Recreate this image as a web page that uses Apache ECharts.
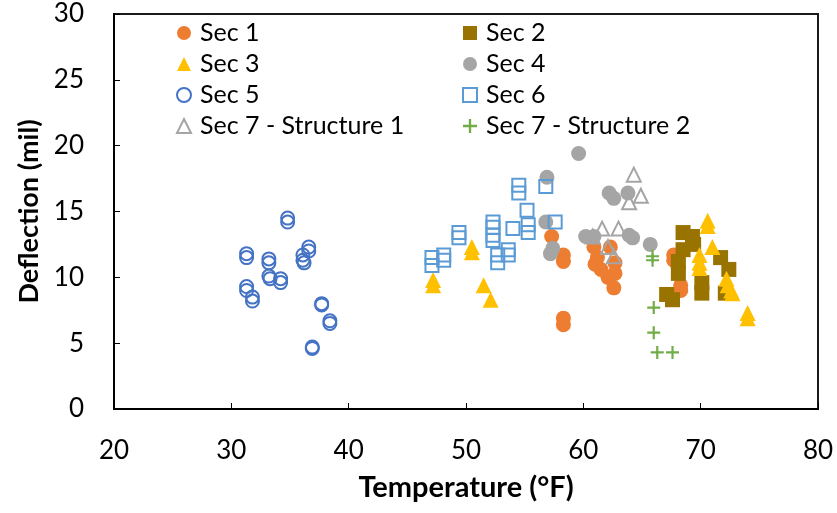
<!DOCTYPE html>
<html>
<head>
<meta charset="utf-8">
<script src="https://cdn.jsdelivr.net/npm/echarts@6/dist/echarts.min.js"></script>
<style>html,body{margin:0;padding:0;background:#fff}#c{width:837px;height:513px}</style>
</head>
<body>
<div id="c"></div>
<script>
const xTicks = [20, 30, 40, 50, 60, 70, 80];
const yTicks = [0, 5, 10, 15, 20, 25, 30];
const seriesNames = ["Sec 1", "Sec 2", "Sec 3", "Sec 4", "Sec 5", "Sec 6", "Sec 7 - Structure 1", "Sec 7 - Structure 2"];

const sec1 = [[57.3,13.1],[58.3,11.7],[58.3,11.2],[60.9,12.3],[61.2,11.5],[61.5,10.6],[62.1,10.0],[62.6,9.2],[62.3,12.3],[62.7,11.1],[62.7,10.3],[61.0,11.0],[58.3,6.9],[58.3,6.4],[67.7,11.7],[67.7,11.3],[68.3,9.4],[68.3,9.0]];
const sec2 = [[68.5,13.4],[69.3,13.1],[69.4,12.5],[68.5,12.1],[68.1,11.2],[68.1,10.3],[71.7,11.5],[72.4,10.6],[70.1,9.6],[70.1,8.8],[72.1,8.8],[67.1,8.7],[67.6,8.3]];
const sec3 = [[50.5,12.3],[50.5,11.9],[47.2,9.8],[47.2,9.4],[51.5,9.4],[52.1,8.3],[70.6,14.3],[70.6,13.9],[71.0,12.3],[69.9,11.7],[69.9,11.1],[69.9,10.7],[72.2,9.9],[72.3,9.4],[72.6,9.0],[72.7,8.8],[74.0,7.3],[74.0,6.9]];
const sec4 = [[59.6,19.4],[56.9,17.6],[62.2,16.4],[62.6,16.0],[63.8,16.4],[56.8,14.2],[57.4,12.2],[57.2,11.8],[60.2,13.1],[60.9,13.1],[63.9,13.2],[64.2,13.0],[65.7,12.5]];
const sec5 = [[34.8,14.5],[34.8,14.2],[31.3,11.8],[31.3,11.5],[33.2,11.4],[33.2,11.1],[36.6,12.3],[36.6,12.0],[36.1,11.7],[36.1,11.3],[36.2,11.1],[33.2,10.1],[33.3,9.9],[34.2,9.9],[34.2,9.6],[31.3,9.3],[31.3,9.0],[31.8,8.5],[31.8,8.2],[37.7,8.0],[37.7,7.9],[38.4,6.7],[38.4,6.5],[36.9,4.7],[36.9,4.6]];
const sec6 = [[54.5,17.0],[54.5,16.4],[56.8,16.9],[55.2,15.1],[57.6,14.2],[54.0,13.7],[55.3,14.0],[55.3,13.4],[52.3,14.2],[52.3,13.8],[52.3,13.2],[52.3,12.8],[49.4,13.4],[49.4,13.0],[48.1,11.7],[48.1,11.3],[47.1,11.5],[47.1,10.9],[52.7,11.7],[52.7,11.1],[53.6,12.1],[53.6,11.7]];
const sec7s1 = [[64.3,17.8],[64.9,16.2],[63.9,15.7],[60.8,13.1],[61.6,13.7],[63.0,13.7],[62.1,12.3],[62.6,11.6]];
const sec7s2 = [[65.9,11.6],[65.9,11.3],[66.0,7.7],[66.0,5.8],[66.3,4.3],[67.6,4.3]];

const FONT = 'Lato, "Open Sans", sans-serif';
const PLUS = 'path://M5,0h2v5h5v2h-5v5h-2v-5h-5v-2h5z';
const T = 'rgba(0,0,0,0)';

const chart = echarts.init(document.getElementById('c'), null, {renderer: 'canvas'});
const dataSets = [sec1, sec2, sec3, sec4, sec5, sec6, sec7s1, sec7s2];
const styles = [
  {symbol: 'circle', symbolSize: 15, itemStyle: {color: '#ED7D31', opacity: 1}},
  {symbol: 'rect', symbolSize: 15, itemStyle: {color: '#997300', opacity: 1}},
  {symbol: 'triangle', symbolSize: 16, itemStyle: {color: '#FFC000', opacity: 1}},
  {symbol: 'circle', symbolSize: 15, itemStyle: {color: '#A5A5A5', opacity: 1}},
  {symbol: 'circle', symbolSize: 13, itemStyle: {color: T, borderColor: '#4472C4', borderWidth: 2, opacity: 1}},
  {symbol: 'rect', symbolSize: 13, itemStyle: {color: T, borderColor: '#5B9BD5', borderWidth: 2, opacity: 1}},
  {symbol: 'triangle', symbolSize: 14, itemStyle: {color: T, borderColor: '#A5A5A5', borderWidth: 2, opacity: 1}},
  {symbol: PLUS, symbolSize: 13, itemStyle: {color: '#70AD47', opacity: 1}}
];

const series = seriesNames.map((n, i) => Object.assign({
  name: n, type: 'scatter', data: dataSets[i], z: 2 + i
}, styles[i]));

const legendBase = {
  orient: 'vertical', top: 18, itemWidth: 14, itemHeight: 14, itemGap: 1, padding: 0,
  textStyle: {fontFamily: FONT, fontSize: 25, color: '#000', lineHeight: 30, padding: [0, 0, 0, 4]}
};

chart.setOption({
  animation: false,
  backgroundColor: '#fff',
  grid: {left: 114, right: 19, top: 14, bottom: 104, show: true, borderColor: '#1a1a1a', borderWidth: 2},
  legend: [
    Object.assign({left: 176, data: [seriesNames[0], seriesNames[2], seriesNames[4], seriesNames[6]]}, legendBase),
    Object.assign({left: 462, data: [seriesNames[1], seriesNames[3], seriesNames[5], seriesNames[7]]}, legendBase)
  ],
  xAxis: {
    type: 'value', min: xTicks[0], max: xTicks[xTicks.length - 1], interval: 10,
    name: 'Temperature (°F)', nameLocation: 'middle', nameGap: 64,
    nameTextStyle: {fontFamily: FONT, fontSize: 29, fontWeight: 'bold', color: '#000'},
    axisLine: {lineStyle: {color: '#000', width: 2}},
    axisTick: {inside: true, length: 6, lineStyle: {color: '#000'}},
    axisLabel: {fontFamily: FONT, fontSize: 26, color: '#000', margin: 29},
    splitLine: {show: false}
  },
  yAxis: {
    type: 'value', min: yTicks[0], max: yTicks[yTicks.length - 1], interval: 5,
    name: 'Deflection (mil)', nameLocation: 'middle', nameGap: 70,
    nameTextStyle: {fontFamily: FONT, fontSize: 27, fontWeight: 'bold', color: '#000'},
    axisLine: {lineStyle: {color: '#000', width: 2}},
    axisTick: {inside: true, length: 6, lineStyle: {color: '#000'}},
    axisLabel: {fontFamily: FONT, fontSize: 26, color: '#000', margin: 30},
    splitLine: {show: false}
  },
  series: series
});
</script>
</body>
</html>
